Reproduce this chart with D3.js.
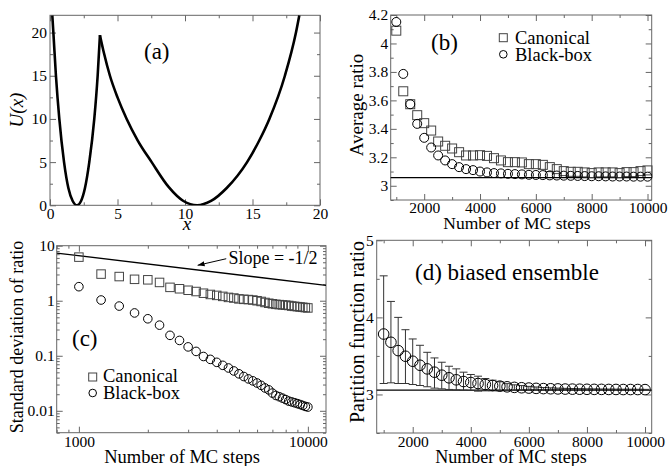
<!DOCTYPE html>
<html><head><meta charset="utf-8">
<script src="https://cdn.jsdelivr.net/npm/d3@7/dist/d3.min.js"></script>
</head><body style="margin:0;background:#fff">
<svg id="chart" width="670" height="466" font-family="Liberation Serif" style="display:block;background:#fff"></svg>
<script>
// ---------- Panel (a): potential U(x) ----------
const potLeftX  = [0.17, 0.25, 0.44, 0.69, 1.04, 1.36, 1.68, 2.0, 2.3, 2.59, 2.91, 3.28, 3.53, 3.7];
const potLeftU  = [22, 20, 15, 10, 5, 2, 0.5, 0, 0.5, 2, 5, 10, 15, 19.7];
const potRightX = [3.7, 4.0, 4.44, 5.0, 5.68, 6.5, 7.53, 8.8, 9.88, 10.9, 11.93, 13.09, 14.6, 15.5, 16.25, 17.4, 18.22, 18.47];
const potRightU = [19.7, 17.6, 15, 12.5, 10, 7.5, 5, 2.1, 0.5, 0, 0.5, 2, 5, 7.5, 10, 15, 20, 22];
const aXTicks = [0, 5, 10, 15, 20];
const aYTicks = [0, 5, 10, 15, 20];

// ---------- Panels (b),(c),(d): number of MC steps ----------
const mcSteps = [1000,1250,1500,1750,2000,2250,2500,2750,3000,3250,3500,3750,4000,4250,4500,4750,5000,5250,5500,5750,6000,6250,6500,6750,7000,7250,7500,7750,8000,8250,8500,8750,9000,9250,9500,9750,10000];

// (b) average ratio
const avgCanonical = [4.09,3.664,3.573,3.496,3.44,3.388,3.311,3.281,3.262,3.236,3.213,3.213,3.215,3.21,3.194,3.178,3.166,3.166,3.164,3.152,3.152,3.147,3.131,3.117,3.103,3.098,3.098,3.094,3.089,3.094,3.094,3.094,3.089,3.096,3.096,3.103,3.108];
const avgBlackBox  = [4.151,3.786,3.573,3.435,3.337,3.269,3.213,3.178,3.152,3.131,3.117,3.11,3.1,3.094,3.089,3.087,3.084,3.082,3.08,3.077,3.076,3.075,3.073,3.072,3.071,3.07,3.069,3.068,3.067,3.067,3.066,3.065,3.065,3.065,3.064,3.064,3.064];
const exactRatio = 3.057;
const bXTicks = [2000, 4000, 6000, 8000, 10000];
const bYTicks = [3, 3.2, 3.4, 3.6, 3.8, 4, 4.2];

// (c) standard deviation of ratio
const sdCanonical = [6.2,3.05,2.75,2.45,2.4,2.15,1.75,1.65,1.55,1.47,1.37,1.3,1.25,1.2,1.15,1.12,1.08,1.06,1.05,1.03,1.0,0.97,0.93,0.9,0.88,0.86,0.85,0.84,0.83,0.82,0.8,0.79,0.78,0.77,0.76,0.75,0.74];
const sdBlackBox  = [1.8,1.03,0.8,0.6,0.47,0.36,0.235,0.19,0.145,0.12,0.097,0.086,0.076,0.067,0.06,0.053,0.047,0.042,0.038,0.035,0.032,0.029,0.026,0.024,0.021,0.019,0.018,0.017,0.016,0.015,0.0145,0.014,0.0135,0.013,0.0125,0.012,0.0117];
const slopeLineX = [800, 12000];
const slopeLineY = [7.36, 1.9];
const cXTicks = [1000, 10000];
const cYTicks = [0.01, 0.1, 1, 10];

// (d) biased ensemble: mean with error-bar ends
const dMean  = [3.784,3.677,3.569,3.496,3.431,3.379,3.332,3.289,3.25,3.216,3.19,3.168,3.155,3.142,3.129,3.116,3.108,3.099,3.092,3.087,3.083,3.079,3.076,3.074,3.072,3.07,3.069,3.068,3.067,3.066,3.066,3.065,3.065,3.064,3.064,3.064,3.063];
const dUpper = [4.539,4.207,4.0,3.84,3.72,3.638,3.547,3.474,3.418,3.366,3.332,3.289,3.259,3.237,3.207,3.185,3.164,3.14,3.125,3.115,3.105,3.097,3.09,3.086,3.082,3.079,3.077,3.075,3.073,3.072,3.071,3.07,3.069,3.068,3.068,3.067,3.066];
const dLower = [3.142,3.151,3.142,3.142,3.129,3.116,3.1,3.082,3.073,3.065,3.06,3.056,3.052,3.043,3.047,3.047,3.047,3.055,3.058,3.06,3.06,3.061,3.062,3.062,3.062,3.061,3.061,3.061,3.061,3.061,3.061,3.06,3.06,3.06,3.06,3.06,3.06];
const dXTicks = [2000, 4000, 6000, 8000, 10000];
const dYTicks = [3, 4, 5];

// ---------------------------------------------------------------
const svg = d3.select("#chart");
const FAM = "Liberation Serif";
const FRAME = "#666";
const TICKFS = 15.5;

function setFont(t, size) {
  t.attr("font-family", FAM).attr("font-size", size)
   .style("font-family", '"' + FAM + '"').style("font-size", size + "px");
  return t;
}
function txt(g, s, size, italic) {
  const t = setFont(g.append("text").attr("fill", "#000").text(s), size);
  if (italic) t.attr("font-style", "italic").style("font-style", "italic");
  return t;
}

function drawAxes(g, x, y, o) {
  const L = x.range()[0], R = x.range()[1], T = y.range()[1], B = y.range()[0];
  const style = sel => {
    sel.select(".domain").remove();
    sel.attr("font-size", TICKFS).attr("font-family", FAM);
    sel.selectAll("line").attr("stroke", FRAME);
    setFont(sel.selectAll("text"), TICKFS).attr("fill", "#000");
  };
  const add = (axis, tx, ty) => g.append("g").attr("transform", `translate(${tx},${ty})`).call(axis).call(style);
  add(d3.axisBottom(x).tickValues(o.xMajor).tickSizeInner(-6).tickSizeOuter(0).tickPadding(o.xPad).tickFormat(o.xFmt), 0, B);
  add(d3.axisLeft(y).tickValues(o.yMajor).tickSizeInner(-6).tickSizeOuter(0).tickPadding(o.yPad).tickFormat(o.yFmt), L, 0);
  add(d3.axisTop(x).tickValues(o.xMajor).tickSizeInner(-6).tickSizeOuter(0).tickFormat(""), 0, T);
  add(d3.axisRight(y).tickValues(o.yMajor).tickSizeInner(-6).tickSizeOuter(0).tickFormat(""), R, 0);
  add(d3.axisBottom(x).tickValues(o.xMinor).tickSizeInner(-3).tickSizeOuter(0).tickFormat(""), 0, B);
  add(d3.axisTop(x).tickValues(o.xMinor).tickSizeInner(-3).tickSizeOuter(0).tickFormat(""), 0, T);
  add(d3.axisLeft(y).tickValues(o.yMinor).tickSizeInner(-3).tickSizeOuter(0).tickFormat(""), L, 0);
  add(d3.axisRight(y).tickValues(o.yMinor).tickSizeInner(-3).tickSizeOuter(0).tickFormat(""), R, 0);
  g.append("rect").attr("x", L).attr("y", T).attr("width", R - L).attr("height", B - T)
    .attr("fill", "none").attr("stroke", FRAME).attr("stroke-width", 1);
}

function clip(id, x, y) {
  svg.append("clipPath").attr("id", id).append("rect")
    .attr("x", x.range()[0]).attr("y", y.range()[1])
    .attr("width", x.range()[1] - x.range()[0]).attr("height", y.range()[0] - y.range()[1]);
  return `url(#${id})`;
}
function squares(g, x, y, xs, ys, s, color) {
  g.selectAll(null).data(xs).join("rect")
    .attr("x", d => x(d) - s / 2).attr("y", (d, i) => y(ys[i]) - s / 2)
    .attr("width", s).attr("height", s)
    .attr("fill", "none").attr("stroke", color).attr("stroke-width", 1);
}
function circles(g, x, y, xs, ys, r, color) {
  g.selectAll(null).data(xs).join("circle")
    .attr("cx", d => x(d)).attr("cy", (d, i) => y(ys[i])).attr("r", r)
    .attr("fill", "none").attr("stroke", color).attr("stroke-width", 1);
}
function rangeMinor(a, b, step, skip) {
  const out = [];
  for (let v = a; v <= b + 1e-9; v += step) {
    const r = Math.round(v * 1000) / 1000;
    if (!skip.some(s => Math.abs(s - r) < 1e-9)) out.push(r);
  }
  return out;
}
function logMinor(lo, hi) {
  const out = [];
  for (let e = Math.floor(Math.log10(lo)); e <= Math.ceil(Math.log10(hi)); e++) {
    for (let m = 2; m <= 9; m++) {
      const v = m * Math.pow(10, e);
      if (v >= lo && v <= hi) out.push(v);
    }
  }
  return out;
}
function fmt1(d) { return String(+d.toFixed(1)); }

// ================= Panel (a) =================
{
  const g = svg.append("g");
  const x = d3.scaleLinear().domain([0, 20]).range([50, 320]);
  const y = d3.scaleLinear().domain([0, 22]).range([205.3, 15.3]);
  drawAxes(g, x, y, {
    xMajor: aXTicks, xMinor: rangeMinor(0, 20, 2.5, aXTicks), xFmt: d => d, xPad: 3,
    yMajor: aYTicks, yMinor: rangeMinor(0, 22, 2.5, aYTicks), yFmt: d => d, yPad: 3
  });
  const line = d3.line().x(d => x(d[0])).y(d => y(d[1])).curve(d3.curveMonotoneX);
  const cp = clip("clipA", x, y);
  [[potLeftX, potLeftU], [potRightX, potRightU]].forEach(([xs, us]) => {
    g.append("path").datum(xs.map((v, i) => [v, us[i]]))
      .attr("d", line).attr("fill", "none").attr("stroke", "#000")
      .attr("stroke-width", 2.6).attr("stroke-linejoin", "miter").attr("clip-path", cp);
  });
  txt(g, "(a)", 23).attr("x", 144).attr("y", 59);
  txt(g, "U(x)", 19, true).attr("transform", "translate(23,110) rotate(-90)").attr("text-anchor", "middle");
  txt(g, "x", 19, true).attr("x", 187).attr("y", 230).attr("text-anchor", "middle");
}

// ================= Panel (b) =================
{
  const g = svg.append("g");
  const x = d3.scaleLinear().domain([800, 10150]).range([390.7, 651.7]);
  const y = d3.scaleLinear().domain([2.9, 4.2]).range([200, 15]);
  drawAxes(g, x, y, {
    xMajor: bXTicks, xMinor: [1000, 3000, 5000, 7000, 9000], xFmt: d => d, xPad: 2,
    yMajor: bYTicks, yMinor: [2.9, 3.1, 3.3, 3.5, 3.7, 3.9, 4.1], yFmt: fmt1, yPad: 2.5
  });
  g.append("line").attr("x1", x.range()[0]).attr("x2", x.range()[1])
    .attr("y1", y(exactRatio)).attr("y2", y(exactRatio)).attr("stroke", "#000").attr("stroke-width", 1.3);
  squares(g, x, y, mcSteps, avgCanonical, 9, "#444");
  circles(g, x, y, mcSteps, avgBlackBox, 4.5, "#000");
  txt(g, "(b)", 23).attr("x", 431).attr("y", 49.5);
  g.append("rect").attr("x", 499.3).attr("y", 33.7).attr("width", 8).attr("height", 8)
    .attr("fill", "none").attr("stroke", "#444");
  txt(g, "Canonical", 18.5).attr("x", 515).attr("y", 44);
  g.append("circle").attr("cx", 503.3).attr("cy", 54.3).attr("r", 3.8)
    .attr("fill", "none").attr("stroke", "#000");
  txt(g, "Black-box", 18.5).attr("x", 515).attr("y", 60.5);
  txt(g, "Average ratio", 19).attr("transform", "translate(363,105) rotate(-90)").attr("text-anchor", "middle");
  txt(g, "Number of MC steps", 17.5).attr("x", 517).attr("y", 229).attr("text-anchor", "middle");
}

// ================= Panel (c) =================
{
  const g = svg.append("g");
  const x = d3.scaleLog().domain([800, 12000]).range([56.7, 326]);
  const y = d3.scaleLog().domain([0.004, 10]).range([432.7, 245.7]);
  drawAxes(g, x, y, {
    xMajor: cXTicks, xMinor: logMinor(800, 12000), xFmt: d => d, xPad: 3,
    yMajor: cYTicks, yMinor: logMinor(0.004, 10), yFmt: d => String(d), yPad: 2
  });
  const cp = clip("clipC", x, y);
  g.append("line").attr("x1", x(slopeLineX[0])).attr("x2", x(slopeLineX[1]))
    .attr("y1", y(slopeLineY[0])).attr("y2", y(slopeLineY[1]))
    .attr("stroke", "#000").attr("stroke-width", 1.3).attr("clip-path", cp);
  squares(g, x, y, mcSteps, sdCanonical, 8.5, "#444");
  circles(g, x, y, mcSteps, sdBlackBox, 4.3, "#000");
  svg.append("defs").append("marker").attr("id", "arr").attr("viewBox", "0 0 10 10")
    .attr("refX", 10).attr("refY", 5).attr("markerWidth", 7).attr("markerHeight", 7)
    .attr("orient", "auto").append("path").attr("d", "M0,1.5 L10,5 L0,8.5 Z").attr("fill", "#000");
  g.append("line").attr("x1", x(4400)).attr("y1", y(5.8)).attr("x2", x(3300)).attr("y2", y(4.4))
    .attr("stroke", "#000").attr("stroke-width", 1).attr("marker-end", "url(#arr)");
  txt(g, "Slope = -1/2", 18).attr("x", x(4500)).attr("y", 264);
  txt(g, "(c)", 23).attr("x", 72).attr("y", 346);
  g.append("rect").attr("x", 88.7).attr("y", 373).attr("width", 8).attr("height", 8)
    .attr("fill", "none").attr("stroke", "#444");
  txt(g, "Canonical", 18.5).attr("x", 103).attr("y", 382);
  g.append("circle").attr("cx", 92.7).attr("cy", 393).attr("r", 3.8)
    .attr("fill", "none").attr("stroke", "#000");
  txt(g, "Black-box", 18.5).attr("x", 103).attr("y", 398.5);
  txt(g, "Standard deviation of ratio", 18).attr("transform", "translate(23,337) rotate(-90)").attr("text-anchor", "middle");
  txt(g, "Number of MC steps", 18.5).attr("x", 182).attr("y", 463).attr("text-anchor", "middle");
}

// ================= Panel (d) =================
{
  const g = svg.append("g");
  const x = d3.scaleLinear().domain([760, 10230]).range([376.7, 651.7]);
  const y = d3.scaleLinear().domain([2.5, 5]).range([433, 240.3]);
  drawAxes(g, x, y, {
    xMajor: dXTicks, xMinor: [1000, 3000, 5000, 7000, 9000], xFmt: d => d, xPad: 3,
    yMajor: dYTicks, yMinor: [2.5, 3.5, 4.5], yFmt: d => d, yPad: 3
  });
  g.append("line").attr("x1", x.range()[0]).attr("x2", x.range()[1])
    .attr("y1", y(exactRatio)).attr("y2", y(exactRatio)).attr("stroke", "#000").attr("stroke-width", 1.3);
  const cap = 4;
  const eb = g.append("g").attr("stroke", "#333").attr("stroke-width", 1);
  mcSteps.forEach((s, i) => {
    eb.append("line").attr("x1", x(s)).attr("x2", x(s)).attr("y1", y(dUpper[i])).attr("y2", y(dLower[i]));
    eb.append("line").attr("x1", x(s) - cap).attr("x2", x(s) + cap).attr("y1", y(dUpper[i])).attr("y2", y(dUpper[i]));
    eb.append("line").attr("x1", x(s) - cap).attr("x2", x(s) + cap).attr("y1", y(dLower[i])).attr("y2", y(dLower[i]));
  });
  circles(g, x, y, mcSteps, dMean, 5.3, "#000");
  txt(g, "(d) biased ensemble", 23).attr("x", 415).attr("y", 280);
  txt(g, "Partition function ratio", 20).attr("transform", "translate(364,332) rotate(-90)").attr("text-anchor", "middle");
  txt(g, "Number of MC steps", 18).attr("x", 511).attr("y", 463).attr("text-anchor", "middle");
}
</script>
</body></html>
